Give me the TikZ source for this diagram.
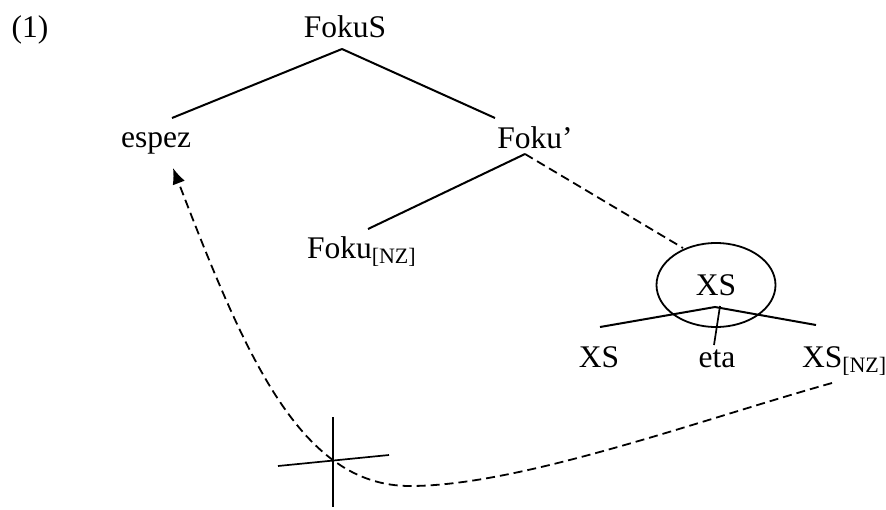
\documentclass[tikz,border=0pt]{standalone}
\usepackage{fontspec}
\setmainfont{Liberation Serif}
\usetikzlibrary{shapes.geometric,calc,arrows.meta}
\newcommand\subnz{\raisebox{-5pt}{\fontsize{22}{22}\selectfont[NZ]}}
\begin{document}
\begin{tikzpicture}[x=1pt,y=-1pt,
  lbl/.style={inner sep=0pt,outer sep=0pt,font=\fontsize{31.5}{36}\selectfont,anchor=base},
  branch/.style={line width=2pt},
  dbranch/.style={line width=1.8pt,dash pattern=on 9pt off 5pt},
  move/.style={line width=1.8pt,dash pattern=on 9pt off 5pt},
  bar/.style={line width=1.7pt}]
\useasboundingbox (0,0) rectangle (886,509);
\node[lbl] (one) at (30,37) {(1)};
\node[lbl] (fokus) at (345,37) {FokuS};
\node[lbl] (espez) at (156,147) {espez};
\node[lbl] (fokubar) at (535,148) {Foku’};
\node[lbl,anchor=base west] (fokunz) at (307,258) {Foku\subnz};
\node[lbl,anchor=center,draw,ellipse,line width=1.8pt,minimum width=119pt,minimum height=84pt] (xstop) at (716,285) {XS};
\node[lbl] (xsl) at (599,367) {XS};
\node[lbl] (eta) at (717,367) {eta};
\node[lbl,anchor=base west] (xsnz) at (802,367) {XS\subnz};
% tree
\draw[branch] ($(fokus.base)+(-3,12)$) -- ($(espez.base)+(16,-29)$);
\draw[branch] ($(fokus.base)+(-3,12)$) -- ($(fokubar.base)+(-40,-30)$);
\draw[branch] ($(fokubar.base)+(-10,6)$) -- ($(fokunz.base west)+(61,-29)$);
\draw[dbranch] ($(fokubar.base)+(-10,6)$) -- ($(xstop.center)+(-33,-37)$);
\draw[branch] ($(xsl.base)+(1,-40)$) -- ($(xstop.center)+(-1,22)$) -- ($(xsnz.base west)+(14,-42)$);
\draw[bar] ($(xstop.center)+(4,21)$) -- ($(eta.base)+(-3,-22)$);
% cross
\coordinate (ct) at (333,417);
\coordinate (cb) at (333,507);
\coordinate (cl) at (278,466);
\coordinate (cr) at (389,455);
\draw[bar] (ct) -- (cb);
\draw[bar] (cl) -- (cr);
% movement
\coordinate (low) at (410,486);
\draw[move,-{Latex[length=16pt,width=13pt]}] ($(xsnz.base west)+(30,16)$) .. controls (700,420) and (520,486) .. (low) .. controls (300,486) and (245,355) .. ($(espez.base)+(17,21)$);
\end{tikzpicture}
\end{document}
